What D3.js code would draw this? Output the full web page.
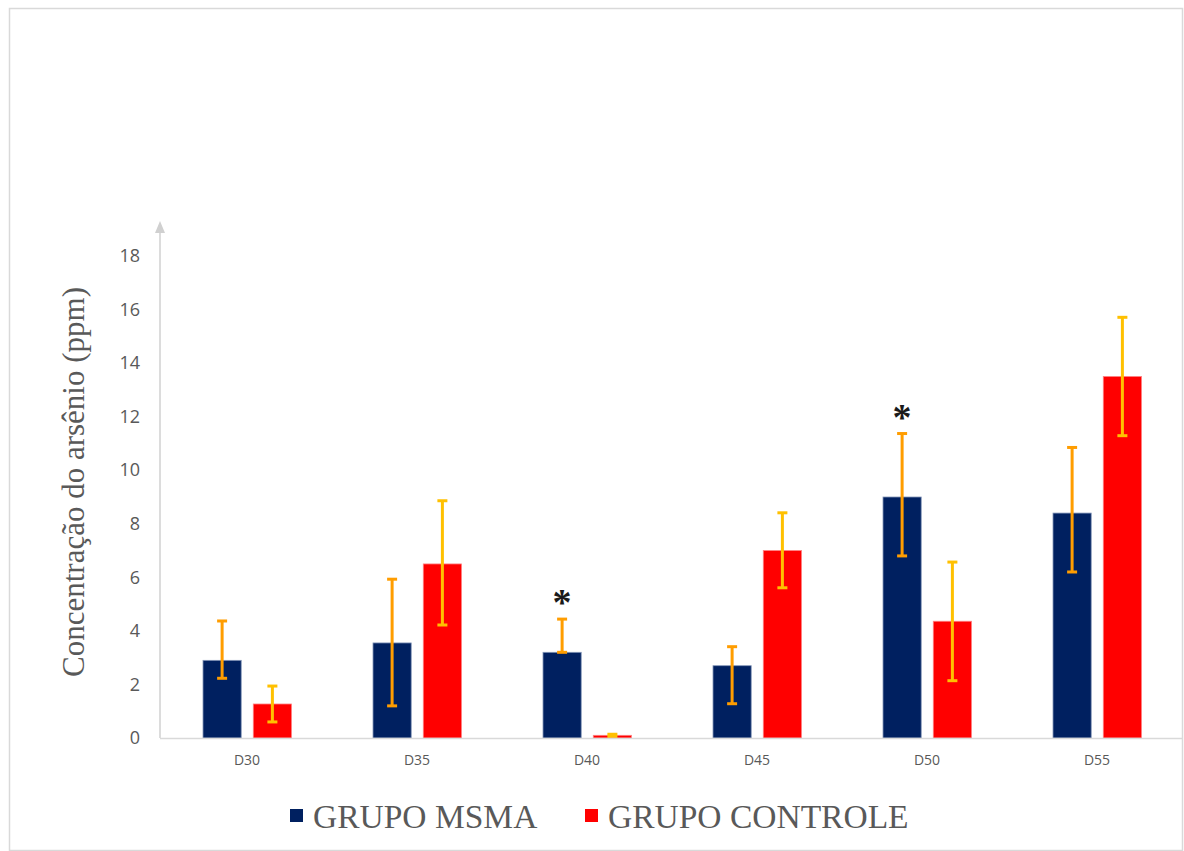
<!DOCTYPE html>
<html>
<head>
<meta charset="utf-8">
<script src="https://cdn.jsdelivr.net/npm/d3@7"></script>
<style>
  html, body { margin: 0; padding: 0; background: #ffffff; }
  svg { display: block; }
</style>
</head>
<body>
<svg id="chart" width="1184" height="851"></svg>
<script>
// Arsenic concentration (ppm) per collection day, two groups
const categories = ["D30", "D35", "D40", "D45", "D50", "D55"];
const seriesNames = ["GRUPO MSMA", "GRUPO CONTROLE"];

const msmaValues = [2.9, 3.55, 3.2, 2.7, 9.0, 8.4];
const msmaLow    = [2.23, 1.2, 3.2, 1.28, 6.8, 6.2];
const msmaHigh   = [4.37, 5.93, 4.44, 3.41, 11.37, 10.85];

const controleValues = [1.27, 6.5, 0.1, 7.0, 4.36, 13.5];
const controleLow    = [0.6, 4.22, 0.06, 5.61, 2.14, 11.29];
const controleHigh   = [1.94, 8.86, 0.14, 8.41, 6.57, 15.71];

// categories marked as significant (asterisk over the MSMA bar)
const significant = ["D40", "D50"];

const yTicks = [0, 2, 4, 6, 8, 10, 12, 14, 16, 18];

const barColors = ["#002060", "#ff0000"];
const errColors = ["#ff9d00", "#ffc000"];

const rows = categories.map((c, i) => ({
  cat: c,
  bars: [
    { s: 0, v: msmaValues[i], lo: msmaLow[i], hi: msmaHigh[i] },
    { s: 1, v: controleValues[i], lo: controleLow[i], hi: controleHigh[i] }
  ]
}));

const svg = d3.select("#chart");

// outer frame
svg.append("rect")
  .attr("x", 9.5).attr("y", 8.5)
  .attr("width", 1173).attr("height", 842)
  .attr("fill", "none")
  .attr("stroke", "#d9d9d9")
  .attr("stroke-width", 1.5);

const x0 = d3.scaleBand().domain(categories).range([162, 1182]).padding(0);
const x1 = d3.scaleBand().domain([0, 1]).range([41, 129.5]).paddingInner(0.24);
const y = d3.scaleLinear().domain([0, 18]).range([738, 256]);

// y axis labels (no tick marks, no domain path)
const yAxis = d3.axisLeft(y).tickValues(yTicks).tickSize(0).tickPadding(0);
const gy = svg.append("g").attr("transform", "translate(140,0)").call(yAxis);
gy.select(".domain").remove();
gy.selectAll("text")
  .attr("font-family", "'Open Sans', sans-serif")
  .attr("font-size", 18)
  .attr("fill", "#595959");

// y axis line with arrow head
svg.append("line")
  .attr("x1", 160).attr("x2", 160)
  .attr("y1", y(0)).attr("y2", 232)
  .attr("stroke", "#d0d0d0").attr("stroke-width", 1.5);
svg.append("path")
  .attr("d", "M160,221 L155,233 L165,233 Z")
  .attr("fill", "#d0d0d0");

// x axis
const xAxis = d3.axisBottom(x0).tickSize(0).tickPadding(17);
const gx = svg.append("g").attr("transform", `translate(0,${y(0)})`).call(xAxis);
gx.select(".domain").remove();
gx.selectAll("text")
  .attr("font-family", "'Open Sans', sans-serif")
  .attr("font-size", 14)
  .attr("fill", "#595959");

// bars
const groups = svg.append("g").selectAll("g")
  .data(rows).join("g")
  .attr("transform", d => `translate(${x0(d.cat)},0)`);

groups.selectAll("rect")
  .data(d => d.bars).join("rect")
  .attr("x", d => x1(d.s))
  .attr("width", x1.bandwidth())
  .attr("y", d => y(d.v))
  .attr("height", d => y(0) - y(d.v))
  .attr("fill", d => barColors[d.s])
  .attr("stroke", d => d.s === 0 ? "#8496b8" : "#ff8080")
  .attr("stroke-width", 0.8);

svg.append("line")
  .attr("x1", 160).attr("x2", 1183)
  .attr("y1", y(0) + 0.5).attr("y2", y(0) + 0.5)
  .attr("stroke", "#d9d9d9").attr("stroke-width", 1.5);

// error bars
const err = groups.selectAll("g.err")
  .data(d => d.bars).join("g").attr("class", "err")
  .attr("transform", d => `translate(${x1(d.s) + x1.bandwidth() / 2},0)`)
  .attr("stroke", d => errColors[d.s])
  .attr("stroke-width", 3);
err.append("line").attr("x1", 0).attr("x2", 0)
  .attr("y1", d => y(d.lo)).attr("y2", d => y(d.hi));
err.append("line").attr("x1", -5).attr("x2", 5)
  .attr("y1", d => y(d.hi)).attr("y2", d => y(d.hi));
err.append("line").attr("x1", -5).attr("x2", 5)
  .attr("y1", d => y(d.lo)).attr("y2", d => y(d.lo));

// significance marks
groups.filter(d => significant.includes(d.cat))
  .append("text")
  .attr("x", x1(0) + x1.bandwidth() / 2)
  .attr("y", d => y(d.bars[0].hi) - 4)
  .attr("text-anchor", "middle")
  .attr("font-family", "'Liberation Serif', serif")
  .attr("font-weight", "bold")
  .attr("font-size", 38)
  .attr("fill", "#1a1a1a")
  .text("*");

// y axis title
svg.append("text")
  .attr("transform", "translate(84,482) rotate(-90)")
  .attr("text-anchor", "middle")
  .attr("font-family", "'Liberation Serif', serif")
  .attr("font-size", 31)
  .attr("fill", "#595959")
  .text("Concentração do arsênio (ppm)");

// legend
const legendX = [290, 585];
const legend = svg.append("g").selectAll("g")
  .data(seriesNames).join("g")
  .attr("transform", (d, i) => `translate(${legendX[i]},816)`);
legend.append("rect")
  .attr("x", 0).attr("y", -7)
  .attr("width", 13).attr("height", 13)
  .attr("fill", (d, i) => barColors[i]);
legend.append("text")
  .attr("x", 23).attr("y", 0)
  .attr("dy", "0.35em")
  .attr("font-family", "'Liberation Serif', serif")
  .attr("font-size", 33.5)
  .attr("fill", "#595959")
  .text(d => d);
</script>
</body>
</html>
